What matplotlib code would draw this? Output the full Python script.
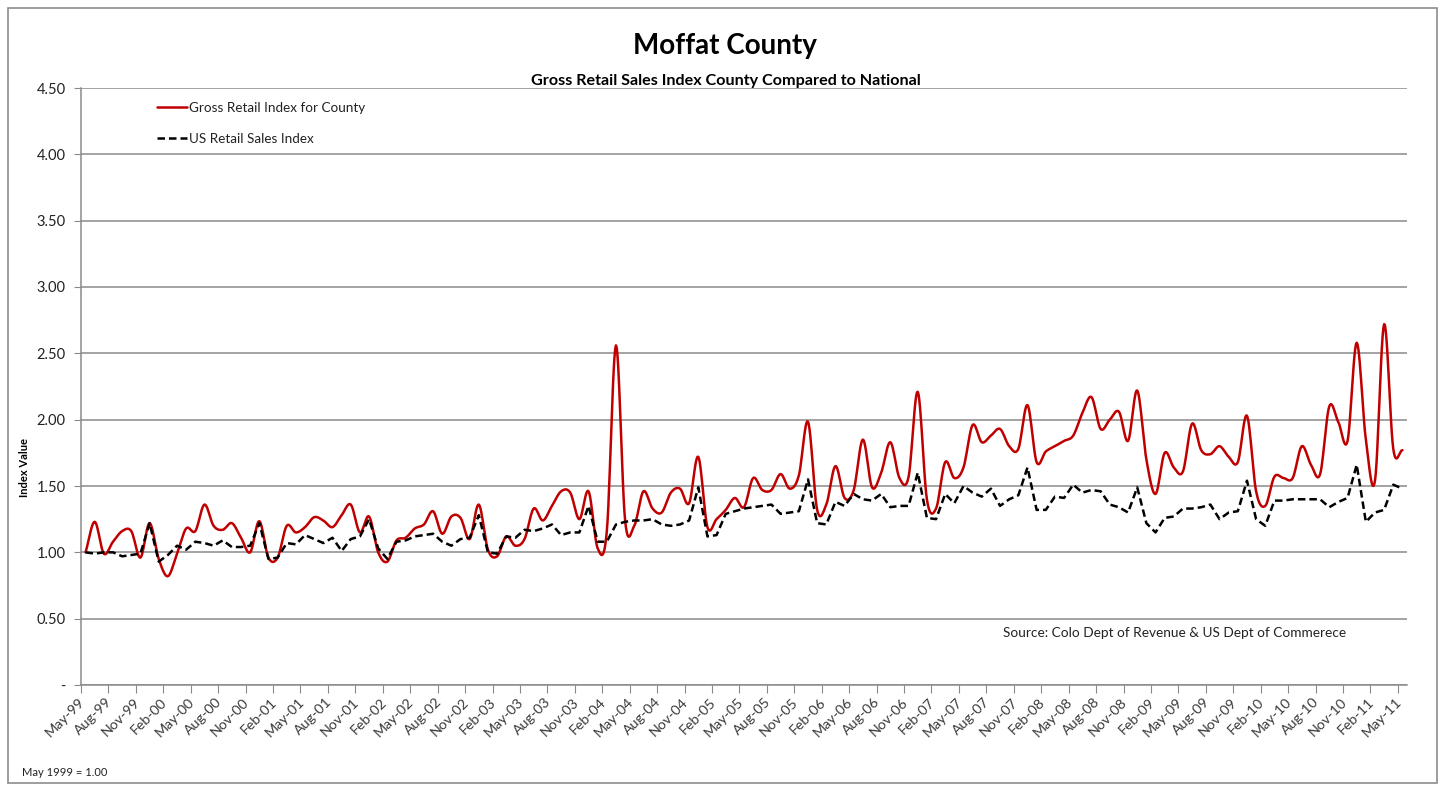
import numpy as np
import matplotlib
matplotlib.use("Agg")
import matplotlib.pyplot as plt
from matplotlib.patches import Rectangle
from matplotlib.transforms import ScaledTranslation, blended_transform_factory

plt.rcParams['font.family'] = ['Lato', 'DejaVu Sans']

# Monthly index values, May 1999 = 1.00
county_index = [
    1.00, 1.23, 0.99, 1.08, 1.16, 1.16, 0.96, 1.22, 0.95, 0.82,
    0.99, 1.18, 1.16, 1.36, 1.20, 1.17, 1.22, 1.11, 1.00, 1.235,
    0.96, 0.96, 1.20, 1.15, 1.19, 1.265, 1.24, 1.19, 1.28, 1.36,
    1.15, 1.27, 1.00, 0.93, 1.09, 1.11, 1.18, 1.21, 1.31, 1.14,
    1.27, 1.26, 1.10, 1.36, 1.02, 0.97, 1.12, 1.05, 1.10, 1.33,
    1.24, 1.35, 1.46, 1.45, 1.25, 1.46, 1.03, 1.16, 2.56, 1.24,
    1.20, 1.46, 1.33, 1.30, 1.45, 1.48, 1.37, 1.72, 1.19, 1.25,
    1.32, 1.41, 1.34, 1.56, 1.47, 1.47, 1.59, 1.48, 1.58, 1.985,
    1.32, 1.36, 1.65, 1.41, 1.47, 1.85, 1.49, 1.60, 1.83, 1.56,
    1.57, 2.21, 1.40, 1.33, 1.68, 1.56, 1.64, 1.96, 1.83, 1.88,
    1.93, 1.80, 1.78, 2.11, 1.68, 1.76, 1.80, 1.84, 1.88, 2.05,
    2.17, 1.93, 2.00, 2.06, 1.84, 2.22, 1.70, 1.44, 1.75, 1.64,
    1.61, 1.97, 1.77, 1.74, 1.80, 1.72, 1.68, 2.03, 1.46, 1.35,
    1.57, 1.56, 1.56, 1.80, 1.66, 1.59, 2.10, 1.98, 1.84, 2.58,
    1.85, 1.54, 2.72, 1.78, 1.77,
]

us_index = [
    1.00, 0.99, 1.00, 1.00, 0.97, 0.98, 0.99, 1.22, 0.93, 0.98,
    1.05, 1.02, 1.08, 1.07, 1.05, 1.09, 1.04, 1.04, 1.05, 1.22,
    0.95, 0.96, 1.07, 1.06, 1.13, 1.10, 1.07, 1.11, 1.01, 1.10,
    1.12, 1.25, 1.03, 0.95, 1.08, 1.09, 1.12, 1.13, 1.14, 1.08,
    1.05, 1.10, 1.11, 1.28, 1.00, 0.99, 1.12, 1.11, 1.17, 1.16,
    1.18, 1.21, 1.13, 1.15, 1.15, 1.35, 1.08, 1.08, 1.21, 1.23,
    1.24, 1.24, 1.25, 1.21, 1.20, 1.21, 1.24, 1.49, 1.12, 1.13,
    1.29, 1.31, 1.33, 1.34, 1.35, 1.36, 1.29, 1.30, 1.31, 1.55,
    1.22, 1.21, 1.38, 1.35, 1.44, 1.40, 1.39, 1.44, 1.34, 1.35,
    1.35, 1.60, 1.26, 1.25, 1.44, 1.37, 1.50, 1.45, 1.42, 1.48,
    1.35, 1.40, 1.43, 1.64, 1.32, 1.32, 1.42, 1.41, 1.51, 1.45,
    1.47, 1.46, 1.36, 1.34, 1.30, 1.49, 1.22, 1.15, 1.26, 1.27,
    1.33, 1.33, 1.34, 1.36, 1.25, 1.30, 1.31, 1.54, 1.25, 1.20,
    1.39, 1.39, 1.40, 1.40, 1.40, 1.40, 1.34, 1.38, 1.41, 1.66,
    1.23, 1.30, 1.32, 1.51, 1.48,
]

month_names = ['Jan', 'Feb', 'Mar', 'Apr', 'May', 'Jun',
               'Jul', 'Aug', 'Sep', 'Oct', 'Nov', 'Dec']
start_year, start_month = 1999, 5
n_months = len(county_index)
month_labels = []
for i in range(n_months):
    m = start_month - 1 + i
    month_labels.append(f"{month_names[m % 12]}-{(start_year + m // 12) % 100:02d}")

y_ticks = [0, 0.5, 1.0, 1.5, 2.0, 2.5, 3.0, 3.5, 4.0, 4.5]
y_tick_labels = ['-', '0.50', '1.00', '1.50', '2.00', '2.50', '3.00', '3.50', '4.00', '4.50']


def smooth_curve(values, steps=12):
    """Catmull-Rom spline through equally spaced points."""
    p = np.asarray(values, dtype=float)
    ext = np.concatenate([[2 * p[0] - p[1]], p, [2 * p[-1] - p[-2]]])
    xs, ys = [], []
    t = np.linspace(0, 1, steps, endpoint=False)
    for i in range(len(p) - 1):
        p0, p1, p2, p3 = ext[i], ext[i + 1], ext[i + 2], ext[i + 3]
        m1 = (p2 - p0) / 2
        m2 = (p3 - p1) / 2
        h00 = 2 * t**3 - 3 * t**2 + 1
        h10 = t**3 - 2 * t**2 + t
        h01 = -2 * t**3 + 3 * t**2
        h11 = t**3 - t**2
        ys.append(h00 * p1 + h10 * m1 + h01 * p2 + h11 * m2)
        xs.append(i + t)
    xs.append([len(p) - 1])
    ys.append([p[-1]])
    return np.concatenate(xs), np.concatenate(ys)


W, H = 1441, 789
fig = plt.figure(figsize=(W / 100, H / 100), dpi=100)
fig.patch.set_facecolor('white')

# outer chart frame
fig.add_artist(Rectangle((8 / W, 1 - 783 / H), (1437 - 8) / W, (783 - 8) / H,
                         transform=fig.transFigure, fill=False,
                         edgecolor='#8c8c8c', linewidth=1.2))

left, right, top, bottom = 81, 1407, 88, 685
ax = fig.add_axes([left / W, 1 - bottom / H, (right - left) / W, (bottom - top) / H])

x = np.arange(n_months)
sx, sy = smooth_curve(county_index)
ax.plot(sx, sy, color='#C00000', lw=1.8, solid_capstyle='round',
        label='Gross Retail Index for County', zorder=3)
ax.plot(x, us_index, color='black', lw=1.8, dashes=(3.0, 1.6),
        label='US Retail Sales Index', zorder=4)

ax.set_xlim(-0.5, n_months - 0.5)
ax.set_ylim(0, 4.5)

ax.set_yticks(y_ticks)
ax.set_yticklabels(y_tick_labels)
ax.grid(axis='y', color='#8a8a8a', lw=1.1)
ax.set_axisbelow(True)

for s in ['top', 'right']:
    ax.spines[s].set_visible(False)
for s in ['left', 'bottom']:
    ax.spines[s].set_color('#8a8a8a')
    ax.spines[s].set_linewidth(1.1)

ax.tick_params(axis='y', length=5, color='#8a8a8a', labelsize=10.5, pad=6,
               labelcolor='#222222')
# tick marks between category groups of three months
ax.set_xticks(np.arange(-0.5, n_months, 3))
ax.tick_params(axis='x', length=6, color='#8a8a8a', labelbottom=False)

lab_tf = blended_transform_factory(ax.transData, ax.transAxes) + \
    ScaledTranslation(-3 / 100, -15 / 100, fig.dpi_scale_trans)
for i in range(0, n_months, 3):
    ax.text(i, 0, month_labels[i], transform=lab_tf, rotation=45,
            rotation_mode='anchor', ha='right', va='center',
            fontsize=10.3, color='#3a3a3a')

fig.text(25 / W, 1 - 468 / H, 'Index Value', rotation=90, ha='center',
         va='center', fontsize=8, fontweight='bold')

leg = ax.legend(loc='upper left', bbox_to_anchor=(0.050, 0.993), frameon=False,
                fontsize=9.7, handlelength=2.25, handletextpad=0.15,
                labelspacing=1.45, borderaxespad=0.3)
for t in leg.get_texts():
    t.set_color('#222222')

fig.text(725 / W, 1 - 46 / H, 'Moffat County', ha='center', va='center',
         fontsize=20, fontweight='bold')
fig.text(726 / W, 1 - 81 / H,
         'Gross Retail Sales Index County Compared to National',
         ha='center', va='center', fontsize=11.6, fontweight='bold')
fig.text(1003 / W, 1 - 633 / H,
         'Source: Colo Dept of Revenue & US Dept of Commerece',
         ha='left', va='center', fontsize=9.8, color='#222222')
fig.text(22 / W, 1 - 772 / H, 'May 1999 = 1.00', ha='left', va='center',
         fontsize=8, color='#222222')

fig.savefig('out.png', dpi=100)
